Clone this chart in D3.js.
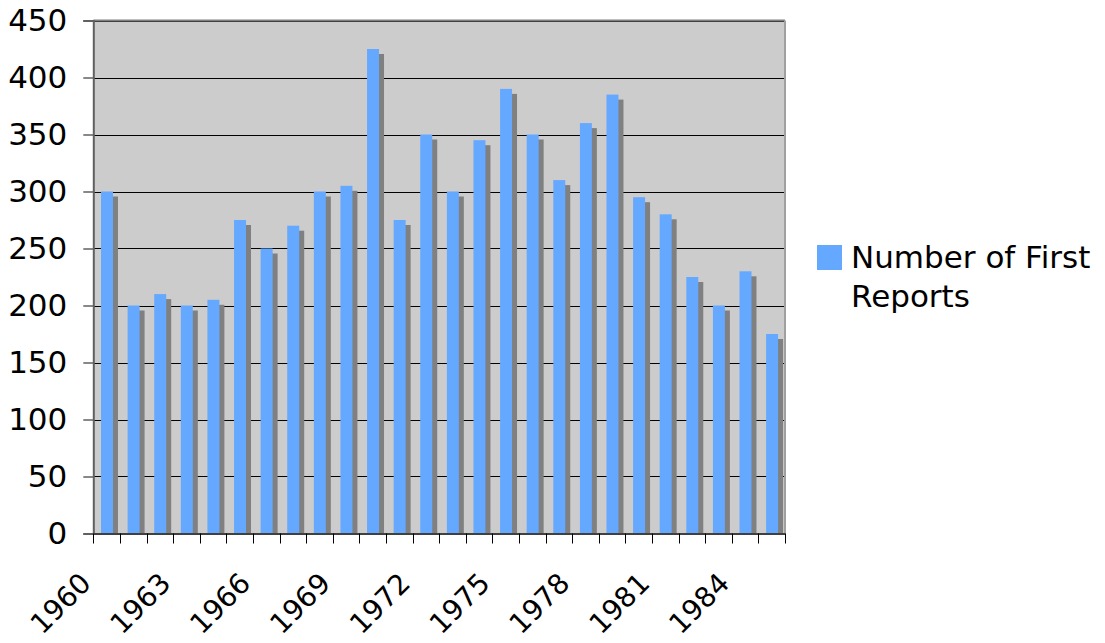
<!DOCTYPE html>
<html><head><meta charset="utf-8">
<script src="https://cdn.jsdelivr.net/npm/d3@7"></script>
<style>
html,body{margin:0;padding:0;background:#fff;}
svg{display:block;font-family:"DejaVu Sans",Verdana,sans-serif;}
</style></head>
<body>
<svg id="chart" width="1105" height="643"></svg>
<script>
const years = [1960,1961,1962,1963,1964,1965,1966,1967,1968,1969,1970,1971,1972,1973,1974,1975,1976,1977,1978,1979,1980,1981,1982,1983,1984,1985];
const reports = [300,200,210,200,205,275,250,270,300,305,425,275,350,300,345,390,350,310,360,385,295,280,225,200,230,175];
const yTicks = [0,50,100,150,200,250,300,350,400,450];
const xLabelYears = [1960,1963,1966,1969,1972,1975,1978,1981,1984];
const seriesName = ["Number of First", "Reports"];

const svg = d3.select("#chart");
const L = 93.3, R = 785, T = 20.5, B = 533.5;

const x = d3.scaleBand().domain(years).range([L, R]).padding(0);
const y = d3.scaleLinear().domain([0, 450]).range([B, T]);
const bw = x.bandwidth();

svg.append("rect").attr("x", L).attr("y", T).attr("width", R - L).attr("height", B - T).attr("fill", "#cccccc");

svg.append("g").selectAll("line").data(yTicks.filter(d => d > 0)).join("line")
  .attr("x1", L).attr("x2", R)
  .attr("y1", d => Math.round(y(d)) + 0.5).attr("y2", d => Math.round(y(d)) + 0.5)
  .attr("stroke", "#000").attr("stroke-width", 1.2);

svg.append("clipPath").attr("id", "plotclip").append("rect")
  .attr("x", L).attr("y", T).attr("width", R - L).attr("height", B - T);

const bars = svg.append("g").attr("clip-path", "url(#plotclip)");
const off = bw * 0.29, w = bw * 0.45, sh = 5;
bars.selectAll("rect.sh").data(years).join("rect").attr("class", "sh")
  .attr("x", (d) => x(d) + off + sh)
  .attr("y", (d, i) => y(reports[i]) + sh)
  .attr("width", w)
  .attr("height", (d, i) => B - y(reports[i]))
  .attr("fill", "#808080");
bars.selectAll("rect.bar").data(years).join("rect").attr("class", "bar")
  .attr("x", (d) => x(d) + off)
  .attr("y", (d, i) => y(reports[i]))
  .attr("width", w)
  .attr("height", (d, i) => B - y(reports[i]))
  .attr("fill", "#64a8ff");

svg.append("line").attr("x1", L).attr("x2", R).attr("y1", T).attr("y2", T).attr("stroke", "#808080").attr("stroke-width", 2);
svg.append("line").attr("x1", R).attr("x2", R).attr("y1", T).attr("y2", B).attr("stroke", "#a0a0a0").attr("stroke-width", 2);

const yAxis = d3.axisLeft(y).tickValues(yTicks).tickSize(10).tickPadding(16);
const gy = svg.append("g").attr("transform", `translate(${L},0)`).call(yAxis);
gy.select(".domain").attr("stroke", "#606060").attr("stroke-width", 2);
gy.selectAll(".tick line").attr("stroke", "#606060").attr("stroke-width", 1.5);
gy.selectAll(".tick text").attr("font-size", 31).attr("fill", "#000")
  .attr("font-family", "DejaVu Sans, Verdana, sans-serif");

const xAxis = d3.axisBottom(x).tickSize(0).tickFormat("");
const gx = svg.append("g").attr("transform", `translate(0,${B})`).call(xAxis);
gx.select(".domain").attr("stroke", "#404040").attr("stroke-width", 2);
gx.selectAll(".tick").remove();
const bounds = years.map(d => x(d)).concat([R]);
svg.append("g").selectAll("line").data(bounds).join("line")
  .attr("x1", d => Math.round(d) + 0.5).attr("x2", d => Math.round(d) + 0.5)
  .attr("y1", B).attr("y2", B + 10)
  .attr("stroke", "#000").attr("stroke-width", 1);

svg.append("g").selectAll("text").data(xLabelYears).join("text")
  .attr("transform", d => `translate(${x(d) + bw / 2 - 14},${B + 51.5}) rotate(-45)`)
  .attr("text-anchor", "end")
  .attr("font-size", 28).attr("fill", "#000")
  .text(d => d);

const lg = svg.append("g");
lg.append("rect").attr("x", 817).attr("y", 245).attr("width", 25).attr("height", 25).attr("fill", "#64a8ff");
lg.selectAll("text").data(seriesName).join("text")
  .attr("x", 851).attr("y", (d, i) => 268 + i * 38.5)
  .attr("font-size", 31).attr("fill", "#000")
  .text(d => d);
</script>
</body></html>
